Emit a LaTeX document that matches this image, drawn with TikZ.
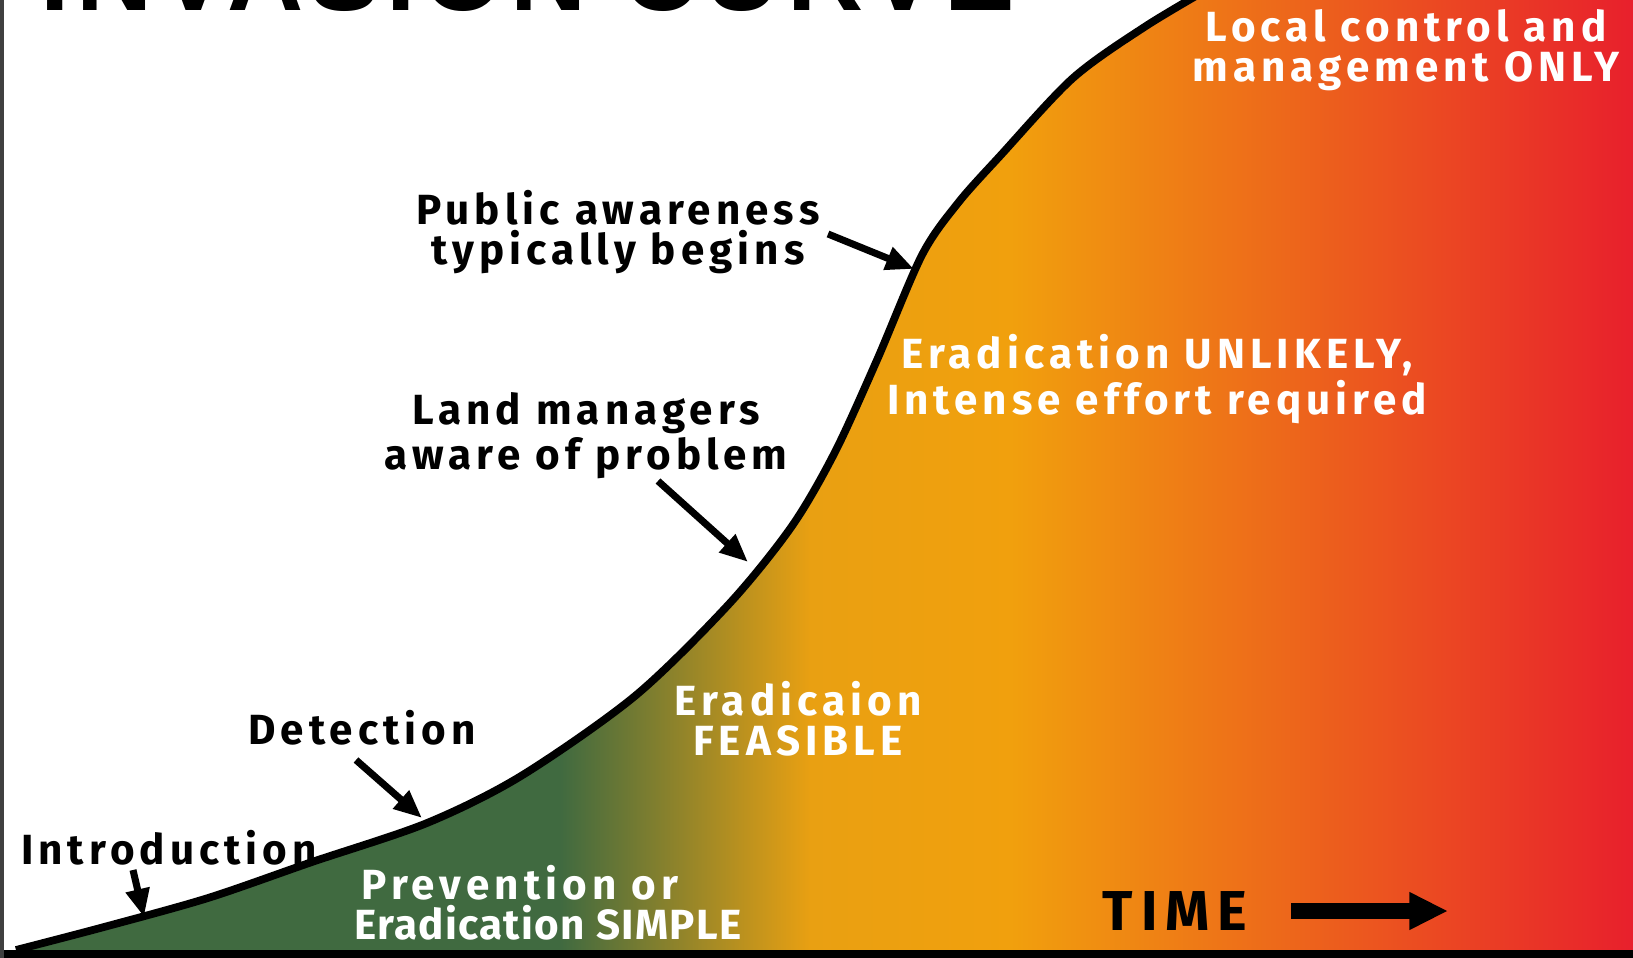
\documentclass[tikz,border=0pt]{standalone}
\usepackage{fontspec}
\setmainfont{Fira Sans}
\newfontfamily\lblfont[LetterSpace=12]{Fira Sans}
\newfontfamily\tightfont[LetterSpace=3]{Fira Sans}
\newfontfamily\timefont[LetterSpace=14]{Fira Sans}
\newfontfamily\titlefont[LetterSpace=6]{Liberation Sans}
\usetikzlibrary{arrows.meta}
\usetikzlibrary{positioning}

\definecolor{earlygreen}{HTML}{406A40}
\definecolor{midgold}{HTML}{E9A012}
\definecolor{lateorange}{HTML}{F1A00D}
\definecolor{latered}{HTML}{E8202C}

\newcommand{\invasioncurve}{plot[smooth] coordinates {(16,950) (104,927) (208,898) (312,862) (427,823) (521,776) (635,696) (729,604) (792,526) (835,452) (877,360) (922,255) (958,203) (1000,156) (1073,78) (1146,26) (1215,-15)}}

\begin{document}
\begin{tikzpicture}[
        x=0.1mm, y=-0.1mm,
        lbl/.style={font=\lblfont\bfseries\fontsize{12}{11.5}\selectfont, align=center, inner sep=0pt},
        wlbl/.style={lbl, text=white},
        pointer/.style={line width=2pt, -{Triangle[length=8pt,width=6.5pt]}}
    ]
    \useasboundingbox (0,0) rectangle (1633,958);
    \clip (0,0) rectangle (1633,958);

    % title, cut off at the top
    \node[anchor=base west, inner sep=0pt, font=\titlefont\bfseries\fontsize{30}{30}\selectfont] (title) at (40,11) {INVASION CURVE};

    % area under the curve
    \begin{scope}
        \clip \invasioncurve -- (1633,-15) -- (1633,950) -- cycle;
        \fill[earlygreen] (0,0) rectangle (561,958);
        \shade[left color=earlygreen, right color=midgold] (560,0) rectangle (811,958);
        \shade[left color=midgold, right color=lateorange] (810,0) rectangle (1011,958);
        \shade[left color=lateorange, right color=latered] (1010,0) rectangle (1633,958);
    \end{scope}
    \draw[line width=2.2pt] \invasioncurve;

    % frame
    \draw[line width=2.2pt] (0,954) -- (1633,954);
    \draw[gray!50!black, line width=1pt] (2,0) -- (2,958);

    % labels
    \node[wlbl] (ctrl) at (1406,50) {Local control and\\management ONLY};
    \node[lbl] (public) at (618,232) {Public awareness\\typically begins};
    \node[wlbl] (unlikely) at (1157,379) {Eradication UNLIKELY,\\Intense effort required};
    \node[lbl] (landmgr) at (586,436) {Land managers\\aware of problem};
    \node[wlbl] (feasible) at (798,719) {Eradicaion\\FEASIBLE};
    \node[lbl] (detect) at (362,728) {Detection};
    \node[lbl] (intro) at (169,848) {Introduction};
    \node[wlbl, align=left, anchor=west] (simple) at (354,903) {\hspace*{2pt}Prevention or\\{\tightfont Eradication SIMPLE}};
    \node[lbl, font=\timefont\bfseries\fontsize{16}{16}\selectfont] (time) at (1175,911) {TIME};

    % pointers
    \coordinate (publicTail) at (828,234);
    \coordinate (publicTip) at (914,269);
    \coordinate (landTail) at (658,481);
    \coordinate (landTip) at (748,562);
    \coordinate (detTail) at (356,760);
    \coordinate (detTip) at (422,818);
    \coordinate (introTail) at (133,870);
    \coordinate (introTip) at (144,917);
    \coordinate (timeTail) at (1291,911);
    \coordinate (timeTip) at (1448,911);
    \draw[pointer] (publicTail) -- (publicTip);
    \draw[pointer] (landTail) -- (landTip);
    \draw[pointer] (detTail) -- (detTip);
    \draw[pointer] (introTail) -- (introTip);
    \draw[line width=4.5pt, -{Triangle[length=11pt,width=10pt]}] (timeTail) -- (timeTip);
\end{tikzpicture}
\end{document}
